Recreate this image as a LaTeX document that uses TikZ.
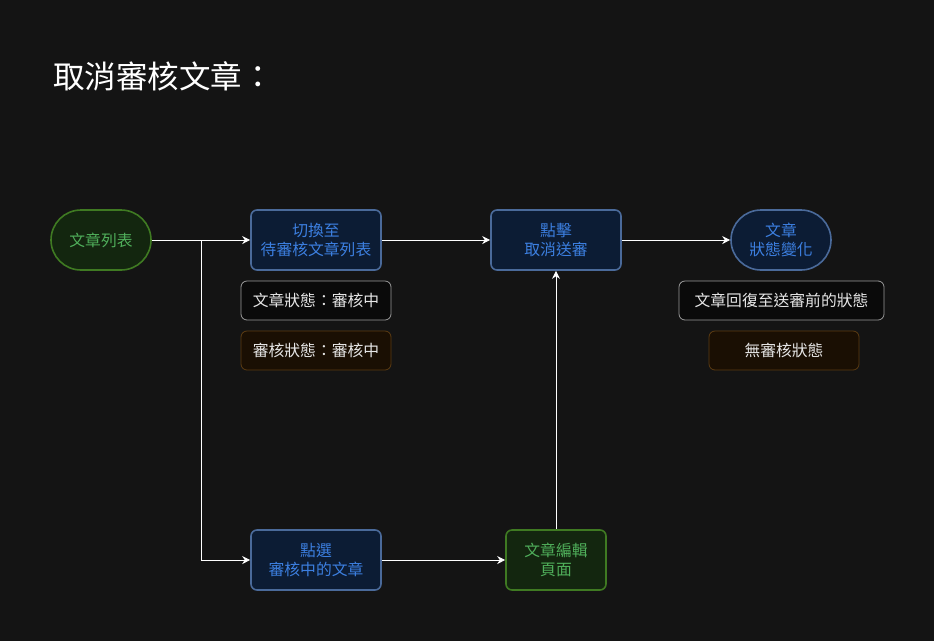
\documentclass[tikz,border=0pt]{standalone}
\usepackage{fontspec}
\setmainfont{Noto Sans CJK TC}
\usetikzlibrary{arrows.meta}
\definecolor{bg}{HTML}{141414}
\definecolor{grnline}{HTML}{3F7A22}
\definecolor{grnfill}{HTML}{13260F}
\definecolor{grntext}{HTML}{4FAE5A}
\definecolor{blueline}{HTML}{4A6A9A}
\definecolor{bluefill}{HTML}{0C1C34}
\definecolor{bluetext}{HTML}{3C7FE0}
\definecolor{grayline}{HTML}{9A9A9A}
\definecolor{grayfill}{HTML}{0A0A0A}
\definecolor{brownline}{HTML}{5C3C12}
\definecolor{brownfill}{HTML}{1A0F03}
\definecolor{infotext}{HTML}{E6E6E6}
\tikzset{
  base/.style={align=center, font=\fontsize{15.8}{19.5}\selectfont, inner sep=0pt},
  pill/.style={base, draw=grnline, fill=grnfill, text=grntext, line width=1.6pt,
    rounded corners=30pt, minimum width=100pt, minimum height=60pt},
  stepbox/.style={base, draw=blueline, fill=bluefill, text=bluetext, line width=1.6pt,
    rounded corners=6pt, minimum width=130pt, minimum height=60pt},
  endnode/.style={base, draw=blueline, fill=bluefill, text=bluetext, line width=1.6pt,
    rounded corners=30pt, minimum width=100pt, minimum height=60pt},
  pagebox/.style={base, draw=grnline, fill=grnfill, text=grntext, line width=1.6pt,
    rounded corners=6pt, minimum width=100pt, minimum height=60pt},
  notebox/.style={base, draw=grayline, fill=grayfill, text=infotext, line width=0.8pt,
    rounded corners=6pt, minimum height=39pt},
  statebox/.style={base, draw=brownline, fill=brownfill, text=infotext, line width=0.8pt,
    rounded corners=6pt, minimum height=39pt},
  flow/.style={draw=white, line width=0.9pt, -{Stealth[length=8pt,width=8pt]}},
}
\begin{document}
\begin{tikzpicture}[x=1pt, y=-1pt]
  \fill[bg] (0,0) rectangle (934,641);
  \useasboundingbox (0,0) rectangle (934,641);

  \node[anchor=base west, text=white, font=\fontsize{31.5}{36}\selectfont, inner sep=0pt]
    (title) at (53,88) {取消審核文章：};

  \node[pill] (list) at (101,240) {文章列表};
  \node[stepbox] (switch) at (316,240) {切換至\\待審核文章列表};
  \node[notebox, minimum width=150pt] (artstate) at (316,300.5) {文章狀態：審核中};
  \node[statebox, minimum width=150pt] (revstate) at (316,350.5) {審核狀態：審核中};
  \node[stepbox] (cancel) at (556,240) {點擊\\取消送審};
  \node[endnode] (change) at (781,240) {文章\\狀態變化};
  \node[notebox, minimum width=205pt] (restore) at (781.5,300.5) {文章回復至送審前的狀態};
  \node[statebox, minimum width=150pt] (none) at (784,350.5) {無審核狀態};
  \node[stepbox] (pick) at (316,560) {點選\\審核中的文章};
  \node[pagebox] (edit) at (556,560) {文章編輯\\頁面};

  \coordinate (fork) at (201,240);

  \draw[flow] (list) -- (switch);
  \draw[flow] (fork) |- (pick);
  \draw[flow] (switch) -- (cancel);
  \draw[flow] (cancel) -- (change);
  \draw[flow] (pick) -- (edit);
  \draw[flow] (edit) -- (cancel);
\end{tikzpicture}
\end{document}
